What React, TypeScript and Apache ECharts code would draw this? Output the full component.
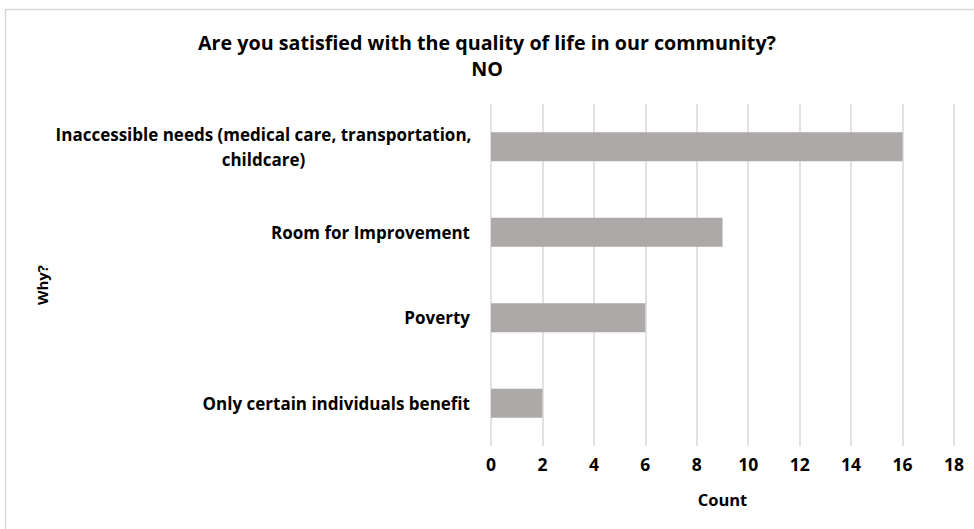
import React, { useEffect, useRef } from "react";
import * as echarts from "echarts";

const categories = [
  "Inaccessible needs (medical care, transportation,\nchildcare)",
  "Room for Improvement",
  "Poverty",
  "Only certain individuals benefit",
];
const counts = [16, 9, 6, 2];
const titleLines = ["Are you satisfied with the quality of life in our community?", "NO"];
const xName = "Count";
const yName = "Why?";

const FONT = "'Open Sans', 'Liberation Sans', Arial, sans-serif";

export default function App() {
  const ref = useRef<HTMLDivElement>(null);
  useEffect(() => {
    if (!ref.current) return;
    const chart = echarts.init(ref.current, undefined, { renderer: "svg" });
    chart.setOption({
      animation: false,
      backgroundColor: "#ffffff",
      graphic: [
        {
          type: "rect",
          shape: { x: 5.5, y: 9.5, width: 1000, height: 600 },
          style: { fill: "none", stroke: "#d9d9d9", lineWidth: 1.5 },
          silent: true,
        },
        {
          type: "text",
          x: 487,
          y: 42,
          style: {
            text: titleLines[0],
            font: `bold 19.7px ${FONT}`,
            fill: "#000",
            align: "center",
            verticalAlign: "middle",
          },
        },
        {
          type: "text",
          x: 487,
          y: 68,
          style: {
            text: titleLines[1],
            font: `bold 19.7px ${FONT}`,
            fill: "#000",
            align: "center",
            verticalAlign: "middle",
          },
        },
        {
          type: "text",
          x: 42,
          y: 285,
          rotation: Math.PI / 2,
          style: {
            text: yName,
            font: `bold 15px ${FONT}`,
            fill: "#000",
            align: "center",
            verticalAlign: "middle",
          },
        },
      ],
      grid: { left: 491, right: 20, top: 104, bottom: 83, containLabel: false },
      xAxis: {
        type: "value",
        min: 0,
        max: 18,
        interval: 2,
        name: xName,
        nameLocation: "middle",
        nameGap: 45,
        nameTextStyle: { fontFamily: FONT, fontWeight: "bold", fontSize: 16.5, color: "#000" },
        axisLine: { show: false },
        axisTick: { show: false },
        axisLabel: { fontFamily: FONT, fontWeight: "bold", fontSize: 17.5, color: "#000", margin: 9 },
        splitLine: { show: true, lineStyle: { color: "#d9d9d9", width: 1.5 } },
      },
      yAxis: {
        type: "category",
        inverse: true,
        data: categories,
        axisLine: { show: false },
        axisTick: { show: false },
        axisLabel: {
          fontFamily: FONT,
          fontWeight: "bold",
          fontSize: 17,
          color: "#000",
          margin: 21,
          lineHeight: 25,
          formatter: (v: string) => {
            if (v.indexOf("\n") >= 0) {
              return v
                .split("\n")
                .map((l) => `{c|${l}}`)
                .join("\n");
            }
            return v;
          },
          rich: {
            c: {
              fontFamily: FONT,
              fontWeight: "bold",
              fontSize: 17,
              color: "#000",
              width: 413,
              align: "center",
              lineHeight: 25,
            },
          },
        },
        splitLine: { show: false },
      },
      series: [
        {
          type: "bar",
          data: counts,
          barWidth: 29,
          itemStyle: { color: "#ada9a8" },
        },
      ],
    });
    return () => chart.dispose();
  }, []);
  return (
    <div
      ref={ref}
      style={{ position: "fixed", left: 0, top: 0, width: 974, height: 529, background: "#fff" }}
    />
  );
}
